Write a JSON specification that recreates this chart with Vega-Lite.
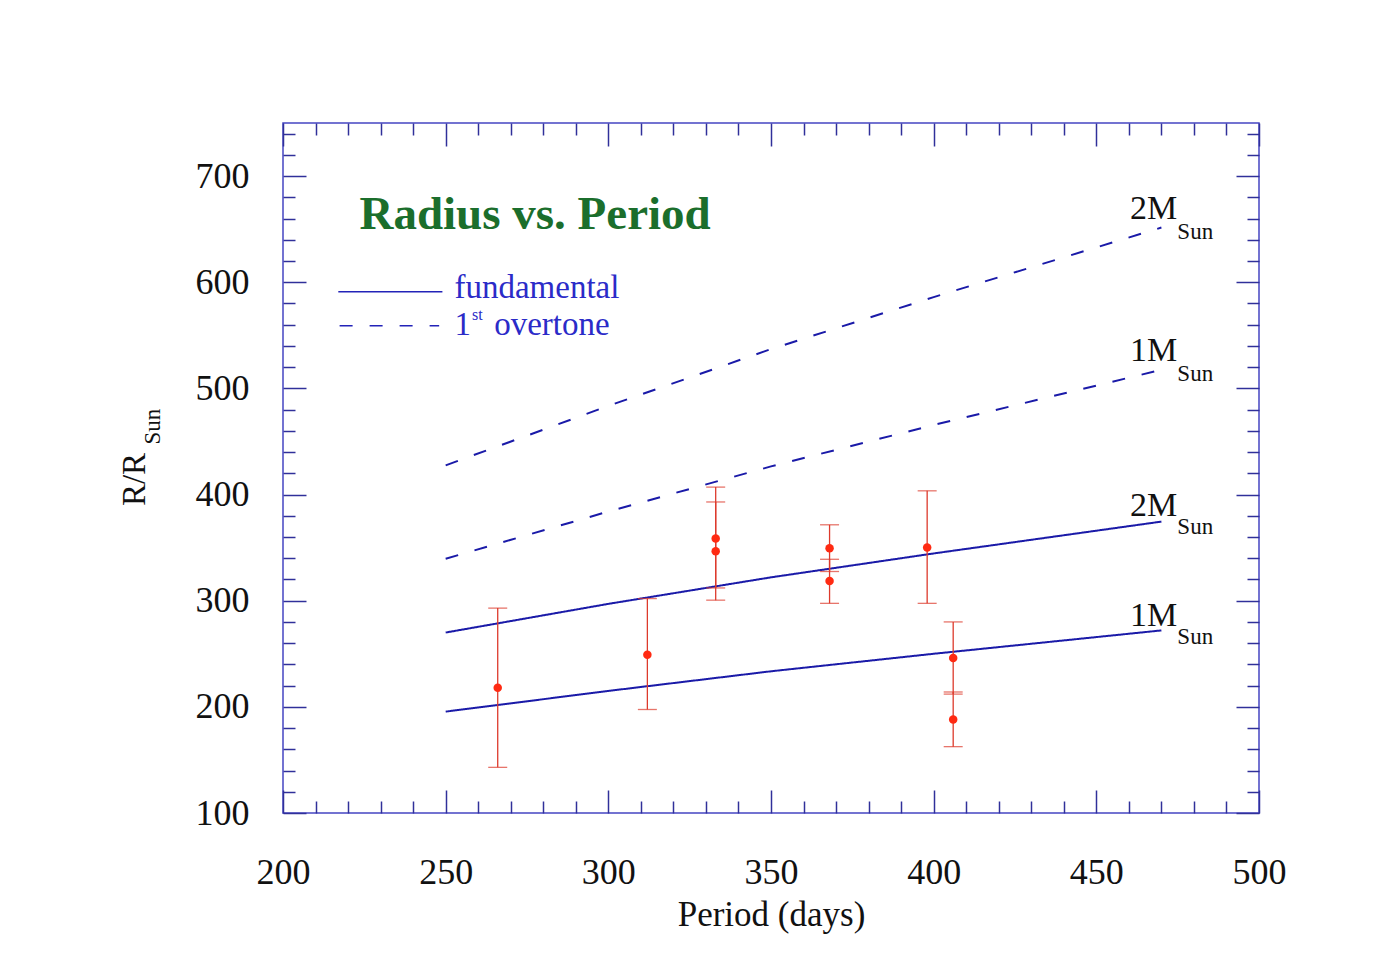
{
  "$schema": "https://vega.github.io/schema/vega-lite/v6.json",
  "width": 976,
  "height": 690,
  "autosize": {"type": "none"},
  "padding": {"left": 283, "top": 123, "right": 119, "bottom": 167},
  "background": "white",
  "config": {
    "view": {"stroke": "#4545c2", "strokeWidth": 1.5},
    "font": "Liberation Serif",
    "axis": {
      "grid": false,
      "domain": false,
      "labelFont": "Liberation Serif",
      "labelFontSize": 36,
      "labelColor": "#111111",
      "tickColor": "#30309a",
      "tickWidth": 1.5,
      "titleFont": "Liberation Serif",
      "titleFontWeight": "normal",
      "titleColor": "#111111"
    }
  },
  "datasets": {
    "models": [
      {"P": 250, "R": 195.5, "mass": "1M", "mode": "fundamental"},
      {"P": 300, "R": 215, "mass": "1M", "mode": "fundamental"},
      {"P": 350, "R": 233.5, "mass": "1M", "mode": "fundamental"},
      {"P": 400, "R": 250, "mass": "1M", "mode": "fundamental"},
      {"P": 470, "R": 272, "mass": "1M", "mode": "fundamental"},
      {"P": 250, "R": 270, "mass": "2M", "mode": "fundamental"},
      {"P": 300, "R": 297, "mass": "2M", "mode": "fundamental"},
      {"P": 350, "R": 322, "mass": "2M", "mode": "fundamental"},
      {"P": 400, "R": 344.5, "mass": "2M", "mode": "fundamental"},
      {"P": 470, "R": 374.5, "mass": "2M", "mode": "fundamental"},
      {"P": 250, "R": 339.5, "mass": "1M", "mode": "overtone"},
      {"P": 300, "R": 384, "mass": "1M", "mode": "overtone"},
      {"P": 350, "R": 426.5, "mass": "1M", "mode": "overtone"},
      {"P": 400, "R": 465.5, "mass": "1M", "mode": "overtone"},
      {"P": 470, "R": 517.5, "mass": "1M", "mode": "overtone"},
      {"P": 250, "R": 427.5, "mass": "2M", "mode": "overtone"},
      {"P": 300, "R": 483.5, "mass": "2M", "mode": "overtone"},
      {"P": 350, "R": 537, "mass": "2M", "mode": "overtone"},
      {"P": 400, "R": 586, "mass": "2M", "mode": "overtone"},
      {"P": 470, "R": 651.5, "mass": "2M", "mode": "overtone"}
    ],
    "obs": [
      {"P": 266, "R": 218, "lo": 143, "hi": 293},
      {"P": 312, "R": 249, "lo": 197.5, "hi": 302},
      {"P": 333, "R": 358.5, "lo": 312, "hi": 407},
      {"P": 333, "R": 346.5, "lo": 300.5, "hi": 393},
      {"P": 368, "R": 349.5, "lo": 327.5, "hi": 371.5},
      {"P": 368, "R": 318.5, "lo": 297.5, "hi": 339},
      {"P": 398, "R": 350, "lo": 297.5, "hi": 403.5},
      {"P": 406, "R": 246, "lo": 212, "hi": 280},
      {"P": 406, "R": 188, "lo": 162.5, "hi": 214}
    ],
    "legendlines": [
      {"P": 217, "R": 591, "mode": "fundamental"},
      {"P": 249, "R": 591, "mode": "fundamental"},
      {"P": 217.4, "R": 559, "mode": "overtone"},
      {"P": 248, "R": 559, "mode": "overtone"}
    ],
    "notes": [
      {"P": 474.9, "R": 660, "text": "2M", "kind": "mass"},
      {"P": 474.9, "R": 641, "text": "Sun", "kind": "sub"},
      {"P": 474.9, "R": 525.5, "text": "1M", "kind": "mass"},
      {"P": 474.9, "R": 506.5, "text": "Sun", "kind": "sub"},
      {"P": 474.9, "R": 379.5, "text": "2M", "kind": "mass"},
      {"P": 474.9, "R": 363, "text": "Sun", "kind": "sub"},
      {"P": 474.9, "R": 276, "text": "1M", "kind": "mass"},
      {"P": 474.9, "R": 259.5, "text": "Sun", "kind": "sub"},
      {"P": 223.5, "R": 650.5, "text": "Radius vs. Period", "kind": "title"},
      {"P": 252.7, "R": 585.5, "text": "fundamental", "kind": "legend"},
      {"P": 252.7, "R": 550.5, "text": "1", "kind": "legend"},
      {"P": 264.9, "R": 550.5, "text": "overtone", "kind": "legend"},
      {"P": 258.1, "R": 564.5, "text": "st", "kind": "sup"},
      {"P": 162.3, "R": 464, "text": "Sun", "kind": "ysub"}
    ]
  },
  "resolve": {"axis": {"x": "independent", "y": "independent"}},
  "layer": [
    {
      "data": {"name": "models"},
      "mark": {"type": "line", "color": "#1a1aa8", "strokeWidth": 2},
      "encoding": {
        "x": {
          "field": "P", "type": "quantitative",
          "scale": {"domain": [200, 500], "nice": false, "zero": false},
          "axis": {
            "orient": "bottom",
            "values": [200,210,220,230,240,250,260,270,280,290,300,310,320,330,340,350,360,370,380,390,400,410,420,430,440,450,460,470,480,490,500],
            "labelExpr": "datum.value % 50 === 0 ? datum.label : ''",
            "tickSize": {"condition": {"test": "datum.value % 50 === 0", "value": -23}, "value": -12},
            "labelBaseline": "alphabetic",
            "labelPadding": 93,
            "labelFlush": false,
            "labelOverlap": false,
            "title": "Period (days)",
            "titleFontSize": 35,
            "titleBaseline": "alphabetic",
            "titleX": 488,
            "titleY": 112
          }
        },
        "y": {
          "field": "R", "type": "quantitative",
          "scale": {"domain": [100, 750], "nice": false, "zero": false},
          "axis": {
            "orient": "left",
            "values": [100,120,140,160,180,200,220,240,260,280,300,320,340,360,380,400,420,440,460,480,500,520,540,560,580,600,620,640,660,680,700,720,740],
            "labelExpr": "datum.value % 100 === 0 ? datum.label : ''",
            "tickSize": {"condition": {"test": "datum.value % 100 === 0", "value": -23}, "value": -12},
            "labelPadding": 57,
            "labelBaseline": "middle",
            "labelFlush": false,
            "labelOverlap": false,
            "title": "R/R",
            "titleFontSize": 33,
            "titleAngle": 270,
            "titleAlign": "center",
            "titleBaseline": "alphabetic",
            "titleX": -138.5,
            "titleY": 356
          }
        },
        "detail": {"field": "mass"},
        "strokeDash": {
          "field": "mode", "type": "nominal",
          "scale": {"domain": ["fundamental", "overtone"], "range": [[1, 0], [13, 17]]},
          "legend": null
        }
      }
    },
    {
      "data": {"name": "obs"},
      "mark": {"type": "errorbar", "color": "#dd3a2c", "thickness": 1.3, "ticks": {"size": 19, "color": "#dd3a2c"}},
      "encoding": {
        "x": {"field": "P", "type": "quantitative", "scale": {"domain": [200, 500], "nice": false, "zero": false}, "axis": null},
        "y": {"field": "lo", "type": "quantitative", "scale": {"domain": [100, 750], "nice": false, "zero": false}, "axis": null},
        "y2": {"field": "hi"}
      }
    },
    {
      "data": {"name": "obs"},
      "mark": {"type": "circle", "color": "#ff2a12", "opacity": 1, "size": 72},
      "encoding": {
        "x": {
          "field": "P", "type": "quantitative",
          "scale": {"domain": [200, 500], "nice": false, "zero": false},
          "axis": {
            "orient": "top",
            "values": [200,210,220,230,240,250,260,270,280,290,300,310,320,330,340,350,360,370,380,390,400,410,420,430,440,450,460,470,480,490,500],
            "labels": false,
            "tickSize": {"condition": {"test": "datum.value % 50 === 0", "value": -23}, "value": -12},
            "title": null
          }
        },
        "y": {
          "field": "R", "type": "quantitative",
          "scale": {"domain": [100, 750], "nice": false, "zero": false},
          "axis": {
            "orient": "right",
            "values": [100,120,140,160,180,200,220,240,260,280,300,320,340,360,380,400,420,440,460,480,500,520,540,560,580,600,620,640,660,680,700,720,740],
            "labels": false,
            "tickSize": {"condition": {"test": "datum.value % 100 === 0", "value": -23}, "value": -12},
            "title": null
          }
        }
      }
    },
    {
      "data": {"name": "legendlines"},
      "mark": {"type": "line", "color": "#2323b8", "strokeWidth": 1.5},
      "encoding": {
        "x": {"field": "P", "type": "quantitative", "scale": {"domain": [200, 500], "nice": false, "zero": false}, "axis": null},
        "y": {"field": "R", "type": "quantitative", "scale": {"domain": [100, 750], "nice": false, "zero": false}, "axis": null},
        "strokeDash": {"field": "mode", "type": "nominal", "legend": null}
      }
    },
    {
      "data": {"name": "notes"},
      "transform": [{"filter": "datum.kind === 'mass'"}],
      "mark": {"type": "text", "align": "right", "baseline": "alphabetic", "fontSize": 34, "font": "Liberation Serif", "color": "#111111"},
      "encoding": {
        "x": {"field": "P", "type": "quantitative", "scale": {"domain": [200, 500], "nice": false, "zero": false}, "axis": null},
        "y": {"field": "R", "type": "quantitative", "scale": {"domain": [100, 750], "nice": false, "zero": false}, "axis": null},
        "text": {"field": "text"}
      }
    },
    {
      "data": {"name": "notes"},
      "transform": [{"filter": "datum.kind === 'sub'"}],
      "mark": {"type": "text", "align": "left", "baseline": "alphabetic", "fontSize": 23, "font": "Liberation Serif", "color": "#111111"},
      "encoding": {
        "x": {"field": "P", "type": "quantitative", "scale": {"domain": [200, 500], "nice": false, "zero": false}, "axis": null},
        "y": {"field": "R", "type": "quantitative", "scale": {"domain": [100, 750], "nice": false, "zero": false}, "axis": null},
        "text": {"field": "text"}
      }
    },
    {
      "data": {"name": "notes"},
      "transform": [{"filter": "datum.kind === 'title'"}],
      "mark": {"type": "text", "align": "left", "baseline": "alphabetic", "fontSize": 47, "fontWeight": "bold", "font": "Liberation Serif", "color": "#1b6e2c"},
      "encoding": {
        "x": {"field": "P", "type": "quantitative", "scale": {"domain": [200, 500], "nice": false, "zero": false}, "axis": null},
        "y": {"field": "R", "type": "quantitative", "scale": {"domain": [100, 750], "nice": false, "zero": false}, "axis": null},
        "text": {"field": "text"}
      }
    },
    {
      "data": {"name": "notes"},
      "transform": [{"filter": "datum.kind === 'legend'"}],
      "mark": {"type": "text", "align": "left", "baseline": "alphabetic", "fontSize": 33, "font": "Liberation Serif", "color": "#2b2bc8"},
      "encoding": {
        "x": {"field": "P", "type": "quantitative", "scale": {"domain": [200, 500], "nice": false, "zero": false}, "axis": null},
        "y": {"field": "R", "type": "quantitative", "scale": {"domain": [100, 750], "nice": false, "zero": false}, "axis": null},
        "text": {"field": "text"}
      }
    },
    {
      "data": {"name": "notes"},
      "transform": [{"filter": "datum.kind === 'sup'"}],
      "mark": {"type": "text", "align": "left", "baseline": "alphabetic", "fontSize": 16, "font": "Liberation Serif", "color": "#2b2bc8"},
      "encoding": {
        "x": {"field": "P", "type": "quantitative", "scale": {"domain": [200, 500], "nice": false, "zero": false}, "axis": null},
        "y": {"field": "R", "type": "quantitative", "scale": {"domain": [100, 750], "nice": false, "zero": false}, "axis": null},
        "text": {"field": "text"}
      }
    },
    {
      "data": {"name": "notes"},
      "transform": [{"filter": "datum.kind === 'ysub'"}],
      "mark": {"type": "text", "align": "center", "baseline": "alphabetic", "angle": 270, "fontSize": 23, "font": "Liberation Serif", "color": "#111111"},
      "encoding": {
        "x": {"field": "P", "type": "quantitative", "scale": {"domain": [200, 500], "nice": false, "zero": false}, "axis": null},
        "y": {"field": "R", "type": "quantitative", "scale": {"domain": [100, 750], "nice": false, "zero": false}, "axis": null},
        "text": {"field": "text"}
      }
    }
  ]
}
